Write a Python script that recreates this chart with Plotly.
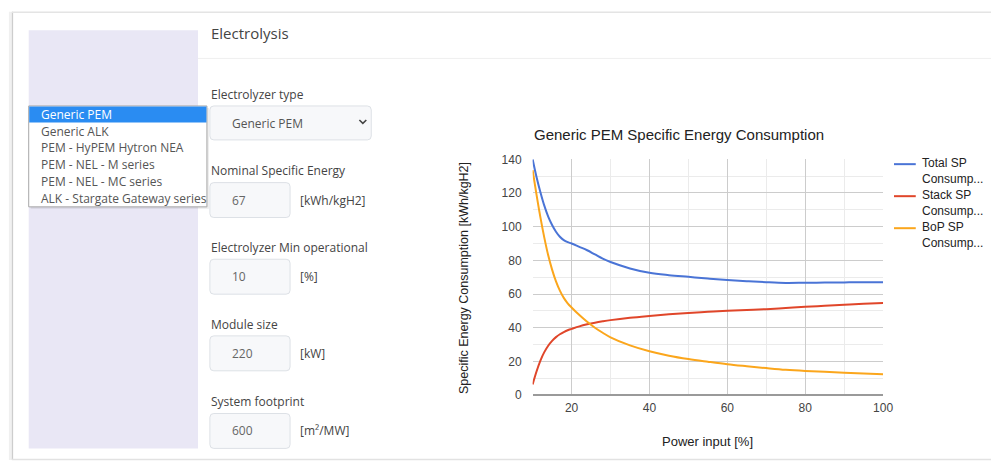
import plotly.graph_objects as go

W, H = 1001, 469

# ---------------- data ----------------
power_input = [10, 11, 12, 13, 14, 15, 16, 17, 18, 19, 20, 22, 24, 26, 28, 30,
               35, 40, 45, 50, 55, 60, 65, 70, 75, 80, 85, 90, 95, 100]
total_sp = [140, 129.5, 120.5, 112.5, 106, 101, 97, 94, 92, 90.8, 90, 88, 86, 83.5, 81, 79,
            75.2, 72.6, 71.2, 70.2, 69.2, 68.3, 67.6, 67.0, 66.6, 66.7, 66.8, 66.9, 67, 67]
stack_sp = [6.3, 14, 20.5, 25.5, 29.3, 32.2, 34.4, 36.1, 37.4, 38.5, 39.3, 40.8, 42, 43, 43.8, 44.5,
            45.9, 47, 48, 48.8, 49.4, 50, 50.5, 51, 51.7, 52.4, 53, 53.6, 54.2, 54.7]
bop_sp = [133.5, 119, 105.5, 93.5, 83, 74.5, 67.5, 62, 57.7, 54.5, 52, 47.5, 43.5, 40, 37, 34.3,
          29.5, 26, 23.4, 21.4, 19.8, 18.3, 17.1, 16, 15, 14.3, 13.8, 13.3, 12.8, 12.3]

series_names = ["Total SP Consumption", "Stack SP Consumption", "BoP SP Consumption"]
legend_labels = ["Total SP<br>Consump...", "Stack SP<br>Consump...", "BoP SP<br>Consump..."]
series_colors = ["#4a74d6", "#e0462a", "#fba61c"]

x_ticks = [20, 40, 60, 80, 100]
y_ticks = [0, 20, 40, 60, 80, 100, 120, 140]

chart_title = "Generic PEM Specific Energy Consumption"
x_title = "Power input [%]"
y_title = "Specific Energy Consumption [kWh/kgH2]"

dropdown_items = ["Generic PEM", "Generic ALK", "PEM - HyPEM Hytron NEA",
                  "PEM - NEL - M series", "PEM - NEL - MC series",
                  "ALK - Stargate Gateway series"]
field_labels = ["Nominal Specific Energy", "Electrolyzer Min operational",
                "Module size", "System footprint"]
field_values = ["67", "10", "220", "600"]
field_units = ["[kWh/kgH2]", "[%]", "[kW]", "[m²/MW]"]

# ---------------- helpers (page pixel -> paper) ----------------
def X(px):
    return px / W

def Y(py):
    return 1 - py / H

shapes = []
annotations = []

def rect(x0, y0, x1, y1, fill, line="rgba(0,0,0,0)", lw=1, layer="below"):
    shapes.append(dict(type="rect", xref="paper", yref="paper",
                       x0=X(x0), x1=X(x1), y0=Y(y1), y1=Y(y0),
                       fillcolor=fill, line=dict(color=line, width=lw), layer=layer))

def rrect(x0, y0, x1, y1, r, fill, line, lw=1):
    p = (f"M {X(x0+r)},{Y(y0)} L {X(x1-r)},{Y(y0)} Q {X(x1)},{Y(y0)} {X(x1)},{Y(y0+r)} "
         f"L {X(x1)},{Y(y1-r)} Q {X(x1)},{Y(y1)} {X(x1-r)},{Y(y1)} "
         f"L {X(x0+r)},{Y(y1)} Q {X(x0)},{Y(y1)} {X(x0)},{Y(y1-r)} "
         f"L {X(x0)},{Y(y0+r)} Q {X(x0)},{Y(y0)} {X(x0+r)},{Y(y0)} Z")
    shapes.append(dict(type="path", xref="paper", yref="paper", path=p,
                       fillcolor=fill, line=dict(color=line, width=lw), layer="below"))

def hline(x0, x1, y, color, lw=1, layer="below"):
    shapes.append(dict(type="line", xref="paper", yref="paper",
                       x0=X(x0), x1=X(x1), y0=Y(y), y1=Y(y),
                       line=dict(color=color, width=lw), layer=layer))

def vline(x, y0, y1, color, lw=1):
    shapes.append(dict(type="line", xref="paper", yref="paper",
                       x0=X(x), x1=X(x), y0=Y(y0), y1=Y(y1),
                       line=dict(color=color, width=lw), layer="below"))

def text(x, y, s, size=12, color="#444", family="Open Sans", xanchor="left",
         yanchor="middle", angle=0):
    annotations.append(dict(xref="paper", yref="paper", x=X(x), y=Y(y), text=s,
                            showarrow=False, xanchor=xanchor, yanchor=yanchor,
                            textangle=angle, borderpad=0, align="left",
                            font=dict(size=size, color=color, family=family)))

# ---------------- page chrome ----------------
vline(10, 5, 467, "#f0f0f0", 2)
vline(12.5, 5, 467, "#cdcdcd", 1.5)
hline(12, 1001, 5.5, "#e4e4e4", 1.5)
hline(12, 1001, 466.5, "#e2e2e2", 1.5)
hline(200, 1001, 53, "#efefef", 1)
rect(29, 24, 200, 455, "#e9e7f5")

text(212, 27, "Electrolysis", size=15, color="#444")

# electrolyzer type select
text(212, 90, "Electrolyzer type", size=12, color="#444")
rrect(212, 102, 375, 137, 4, "#f7f8fa", "#dde1e6")
text(233, 120, "Generic PEM", size=12, color="#555")
shapes.append(dict(type="path", xref="paper", yref="paper",
                   path=f"M {X(363)},{Y(116.5)} L {X(366.5)},{Y(120)} L {X(370)},{Y(116.5)}",
                   line=dict(color="#444", width=1.6)))

# input fields
field_y = [169, 248, 327, 407]
for lab, val, unit, fy in zip(field_labels, field_values, field_units, field_y):
    text(212, fy, lab, size=12, color="#444")
    rrect(212, fy + 12, 293, fy + 48, 4, "#f7f8fa", "#dde1e6")
    text(233, fy + 30, val, size=12, color="#666")
    text(302, fy + 30, unit, size=12, color="#444")

# open dropdown list
rect(31, 104, 211, 208, "rgba(0,0,0,0.08)", layer="above")
rect(29, 102, 209, 206, "#ffffff", "#a8a8a8", 1, layer="above")
rect(29.5, 102.5, 208.5, 119, "#2a8cf2", layer="above")
row_y = [110.5, 128, 145, 162, 179.5, 197]
for i, (item, ry) in enumerate(zip(dropdown_items, row_y)):
    text(40, ry, item, size=12, color="#ffffff" if i == 0 else "#555")

# ---------------- chart ----------------
fig = go.Figure()
for name, vals, col in zip(series_names, [total_sp, stack_sp, bop_sp], series_colors):
    fig.add_trace(go.Scatter(x=power_input, y=vals, name=name, mode="lines",
                             line=dict(color=col, width=2, shape="spline", smoothing=1.0),
                             showlegend=False))

text(538, 131, chart_title, size=15, color="#222", family="Arial")
text(715, 448, x_title, size=13, color="#222", family="Arial", xanchor="center")
text(468, 279, y_title, size=12.5, color="#222", family="Arial", xanchor="center", angle=-90)

# custom legend
leg_y = [162, 195, 228]
for lab, col, ly in zip(legend_labels, series_colors, leg_y):
    hline(903, 925, ly, col, 2, layer="above")
    text(930, ly + 7.5, lab, size=12, color="#222", family="Arial")

fig.update_layout(
    width=W, height=H,
    margin=dict(l=0, r=0, t=0, b=0),
    paper_bgcolor="#ffffff", plot_bgcolor="#ffffff",
    shapes=shapes, annotations=annotations,
    xaxis=dict(domain=[X(538), X(892)], range=[10, 100], tickvals=x_ticks,
               showgrid=True, gridcolor="#cccccc", gridwidth=1,
               minor=dict(tickvals=[30, 50, 70, 90], showgrid=True, gridcolor="#ebebeb"),
               zeroline=False, showline=False, ticks="",
               tickfont=dict(family="Arial", size=12, color="#444"),
               ticklabelstandoff=4),
    yaxis=dict(domain=[Y(400), Y(157)], range=[0, 140], tickvals=y_ticks,
               showgrid=True, gridcolor="#cccccc", gridwidth=1,
               minor=dict(tickvals=[10, 30, 50, 70, 90, 110, 130], showgrid=True,
                          gridcolor="#ebebeb"),
               zeroline=True, zerolinecolor="#9a9a9a", zerolinewidth=2,
               showline=False, ticks="",
               tickfont=dict(family="Arial", size=12, color="#444"),
               ticklabelstandoff=10),
)

fig.write_html("out.html", config={"displayModeBar": False},
               post_script="document.body.style.margin='0';document.body.style.overflow='hidden';")
